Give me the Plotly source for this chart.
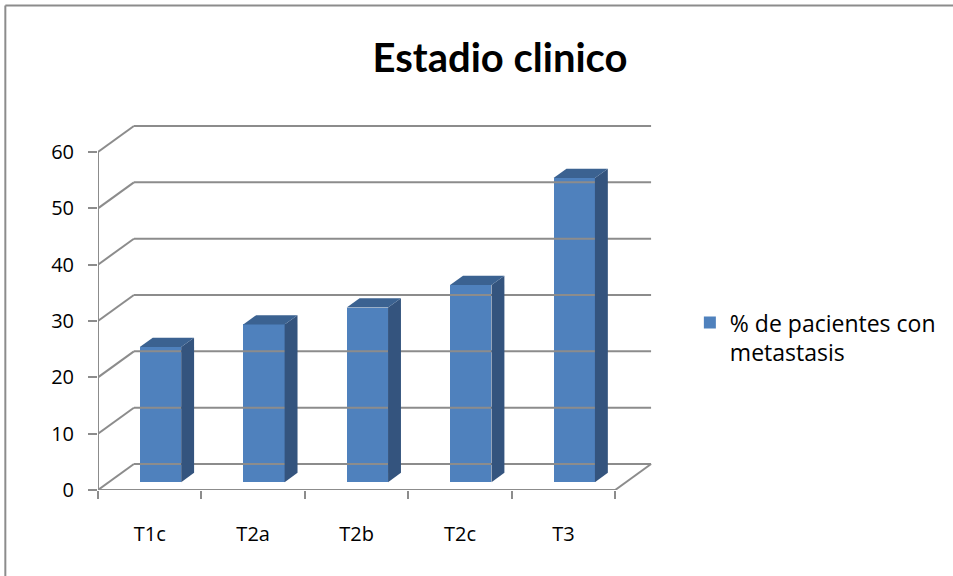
import plotly.graph_objects as go

# ---- data ----
categories = ["T1c", "T2a", "T2b", "T2c", "T3"]
values = [24, 28, 31, 35, 54]
y_ticks = [0, 10, 20, 30, 40, 50, 60]
series_name = "% de pacientes con<br>metastasis"
title_text = "Estadio clinico"

# ---- 3D look parameters (data units) ----
DX = 0.347   # depth offset along x (category units)
DY = 4.61    # depth offset along y (value units)
F0, F1 = 0.30, 0.66  # front/back depth fraction of bars
BAR_W = 0.40
GRID = "#8c8c8c"
FRONT = "#4F81BD"
SIDE = "#34547E"
TOP = "#3B6291"
FONT = "Open Sans"
TITLE_FONT = "Lato"

n = len(categories)
ymax = y_ticks[-1]

# layout in pixels
L, R, T, B = 98, 299, 124.7, 86
W, H = 953, 576
pw = W - L - R
ph = H - T - B
xr = [0, 5.356]
yr = [0, ph / 5.638]

fig = go.Figure()

def line_trace(xs, ys, color=GRID, width=2):
    return go.Scatter(x=xs, y=ys, mode="lines", line=dict(color=color, width=width),
                      hoverinfo="skip", showlegend=False, cliponaxis=False)

# back wall gridlines
gx, gy = [], []
for t in y_ticks:
    gx += [DX, n + DX, None]
    gy += [t + DY, t + DY, None]
fig.add_trace(line_trace(gx, gy))

# left wall diagonals
dx_, dy_ = [], []
for t in y_ticks:
    dx_ += [0, DX, None]
    dy_ += [t, t + DY, None]
fig.add_trace(line_trace(dx_, dy_))

# floor right edge, front floor edge, front value axis
fig.add_trace(line_trace([n, n + DX], [0, DY]))
fig.add_trace(line_trace([0, n], [0, 0]))
fig.add_trace(line_trace([0, 0], [0, ymax]))

# bars: side and top faces
ddx = (F1 - F0) * DX
ddy = (F1 - F0) * DY
base = F0 * DY
for i, v in enumerate(values):
    cx = i + 0.5 + F0 * DX
    xl, xrr = cx - BAR_W / 2, cx + BAR_W / 2
    fig.add_trace(go.Scatter(
        x=[xrr, xrr + ddx, xrr + ddx, xrr, xrr],
        y=[base, base + ddy, base + v + ddy, base + v, base],
        mode="lines", fill="toself", fillcolor=SIDE, line=dict(width=0, color=SIDE),
        hoverinfo="skip", showlegend=False))
    fig.add_trace(go.Scatter(
        x=[xl, xl + ddx, xrr + ddx, xrr, xl],
        y=[base + v, base + v + ddy, base + v + ddy, base + v, base + v],
        mode="lines", fill="toself", fillcolor=TOP, line=dict(width=0, color=TOP),
        hoverinfo="skip", showlegend=False))

# bars: front faces
fig.add_trace(go.Bar(
    x=[i + 0.5 + F0 * DX for i in range(n)], y=values, base=[base] * n, width=BAR_W,
    marker=dict(color=FRONT, line=dict(width=0)), name=series_name, showlegend=True))

def px_to_paper_x(px):
    return (px - L) / pw

def px_to_paper_y(py):
    return (H - B - py) / ph

fig.update_layout(
    width=W, height=H,
    margin=dict(l=L, r=R, t=T, b=B, pad=0),
    paper_bgcolor="white", plot_bgcolor="white",
    font=dict(family=FONT, size=20, color="black"),
    title=dict(text="<b>" + title_text + "</b>", x=500 / W, xref="container", xanchor="center",
               y=1 - 58 / H, yref="container", yanchor="middle",
               font=dict(family=TITLE_FONT, size=40, color="black")),
    xaxis=dict(range=xr, showgrid=False, zeroline=False, showline=False,
               tickvals=[i + 0.5 for i in range(n)], ticktext=categories, ticks="",
               ticklabelstandoff=30, tickfont=dict(size=20, family=FONT, color="black"),
               minor=dict(tickvals=list(range(n + 1)), ticks="outside", ticklen=8,
                          tickwidth=2, tickcolor=GRID, showgrid=False)),
    yaxis=dict(range=yr, showgrid=False, zeroline=False, showline=False,
               tickvals=y_ticks, ticks="outside", ticklen=9, tickwidth=2, tickcolor=GRID,
               ticklabelstandoff=10, tickfont=dict(size=20, family=FONT, color="black")),
    legend=dict(x=px_to_paper_x(692), y=px_to_paper_y(301), xanchor="left", yanchor="top",
                valign="top", font=dict(size=23, family=FONT, color="black"),
                bgcolor="rgba(0,0,0,0)"),
    bargap=0,
    shapes=[
        dict(type="line", xref="paper", yref="paper", x0=px_to_paper_x(5), x1=px_to_paper_x(W + 5),
             y0=px_to_paper_y(5), y1=px_to_paper_y(5), line=dict(color="#8c8c8c", width=2)),
        dict(type="line", xref="paper", yref="paper", x0=px_to_paper_x(5), x1=px_to_paper_x(5),
             y0=px_to_paper_y(5), y1=px_to_paper_y(H + 5), line=dict(color="#8c8c8c", width=2)),
    ],
)

fig.write_html("out.html")
